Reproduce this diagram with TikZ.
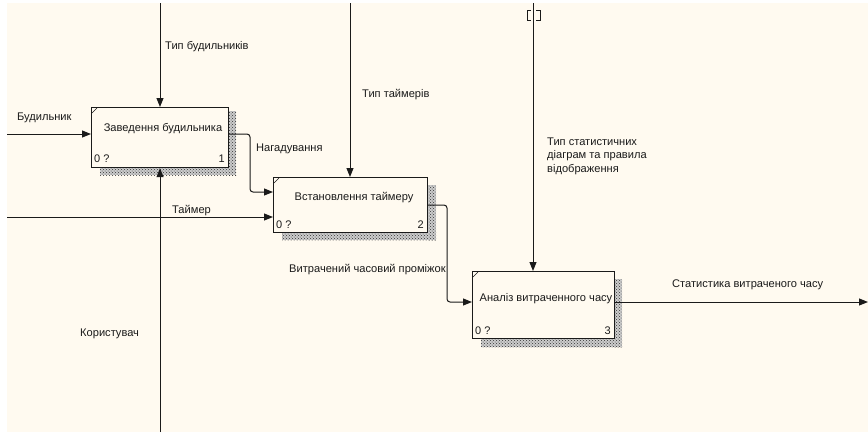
\documentclass[tikz,border=0pt]{standalone}
\usepackage{fontspec}
\setmainfont{Liberation Sans}
\usetikzlibrary{patterns,arrows.meta}
\definecolor{bg}{HTML}{FFFAF0}
\definecolor{ink}{HTML}{1A1A1A}
\begin{document}
\begin{tikzpicture}[x=1pt,y=-1pt,
  every node/.style={font=\fontsize{11.1}{13}\selectfont, text=ink},
  conn/.style={draw=ink, line width=1pt, rounded corners=3pt},
  arr/.style={conn, -{Triangle[length=9pt,width=7pt]}},
  lbl/.style={inner sep=0pt, anchor=west},
  boxtitle/.style={inner sep=0pt, anchor=center},
  boxnum/.style={inner sep=0pt, font=\fontsize{11}{12}\selectfont},
  shadowback/.style={fill=gray!40},
  shadowfill/.style={pattern=crosshatch dots, pattern color=gray!40!black},
  actbox/.style={draw=ink, line width=1.2pt, fill=bg, inner sep=0pt, anchor=north west},
  tick/.style={draw=ink, line width=0.5pt},
]
\useasboundingbox (0,0) rectangle (868,432);
\fill[white] (0,0) rectangle (868,432);
\fill[bg] (7,3) rectangle (868,432);

% shadows
\foreach \r in {{(228,111) rectangle (236,175)},{(100,167) rectangle (236,175)},
                {(427,185) rectangle (436,240)},{(282,232) rectangle (436,240)},
                {(614,279) rectangle (622,347)},{(481,338) rectangle (622,347)}}{
  \fill[shadowback] \r;
  \fill[shadowfill] \r;
}

% boxes
\node[actbox, minimum width=137pt, minimum height=60pt] (b1) at (91,107) {};
\node[actbox, minimum width=154pt, minimum height=55pt] (b2) at (273,177) {};
\node[actbox, minimum width=142pt, minimum height=67pt] (b3) at (472,271) {};

\draw[tick] ([shift={(1,6)}]b1.north west) -- ([shift={(6,1)}]b1.north west);
\draw[tick] ([shift={(1,6)}]b2.north west) -- ([shift={(6,1)}]b2.north west);
\draw[tick] ([shift={(1,6)}]b3.north west) -- ([shift={(6,1)}]b3.north west);

\node[boxtitle] (t1) at (163,129) {Заведення будильника};
\node[boxtitle] (t2) at (354,198) {Встановлення таймеру};
\node[boxtitle] (t3) at (546,299) {Аналіз витраченного часу};

\node[boxnum, anchor=west] (z1) at (94,159) {0 ?};
\node[boxnum, anchor=east] (n1) at (225,159) {1};
\node[boxnum, anchor=west] (z2) at (276,225) {0 ?};
\node[boxnum, anchor=east] (n2) at (424,225) {2};
\node[boxnum, anchor=west] (z3) at (475,331) {0 ?};
\node[boxnum, anchor=east] (n3) at (611,331) {3};

% free ends
\coordinate (c1top) at (160,3);
\coordinate (c2top) at (350,3);
\coordinate (c3top) at (533,3);
\coordinate (m1bot) at (160,432);
\coordinate (i1left) at (7,134);
\coordinate (i2left) at (7,217);
\coordinate (o3right) at (868,302);

% controls
\draw[arr] (c1top) -- (c1top |- b1.north);
\draw[arr] (c2top) -- (c2top |- b2.north);
\draw[arr] (c3top) -- (c3top |- b3.north);
% tunnel brackets
\draw[draw=ink, line width=1pt] (531,10) -- (527,10) -- (527,20) -- (531,20);
\draw[draw=ink, line width=1pt] (536,10) -- (540,10) -- (540,20) -- (536,20);

% mechanism
\draw[arr] (m1bot) -- (m1bot |- b1.south);

% inputs
\draw[arr] (i1left) -- (i1left -| b1.west);
\draw[arr] (i2left) -- (i2left -| b2.west);

% internal flows
\draw[arr] (b1.east |- 0,134) -- (250,134) -- (250,192) -- (b2.west |- 0,192);
\draw[arr] (b2.east |- 0,205) -- (447,205) -- (447,302) -- (b3.west |- 0,302);

% output
\draw[arr] (b3.east |- 0,302) -- (o3right);

% labels
\node[lbl] (l1) at (165,47) {Тип будильників};
\node[lbl] (l2) at (362,95) {Тип таймерів};
\node[lbl, align=left, font=\fontsize{11.1}{13.5}\selectfont] (l3) at (547,156) {Тип статистичних\\діаграм та правила\\відображення};
\node[lbl] (l4) at (17,118) {Будильник};
\node[lbl] (l5) at (256,149) {Нагадування};
\node[lbl] (l6) at (172,211) {Таймер};
\node[lbl] (l7) at (289,270) {Витрачений часовий проміжок};
\node[lbl] (l8) at (80,334) {Користувач};
\node[lbl] (l9) at (672,285) {Статистика витраченого часу};
\end{tikzpicture}
\end{document}
